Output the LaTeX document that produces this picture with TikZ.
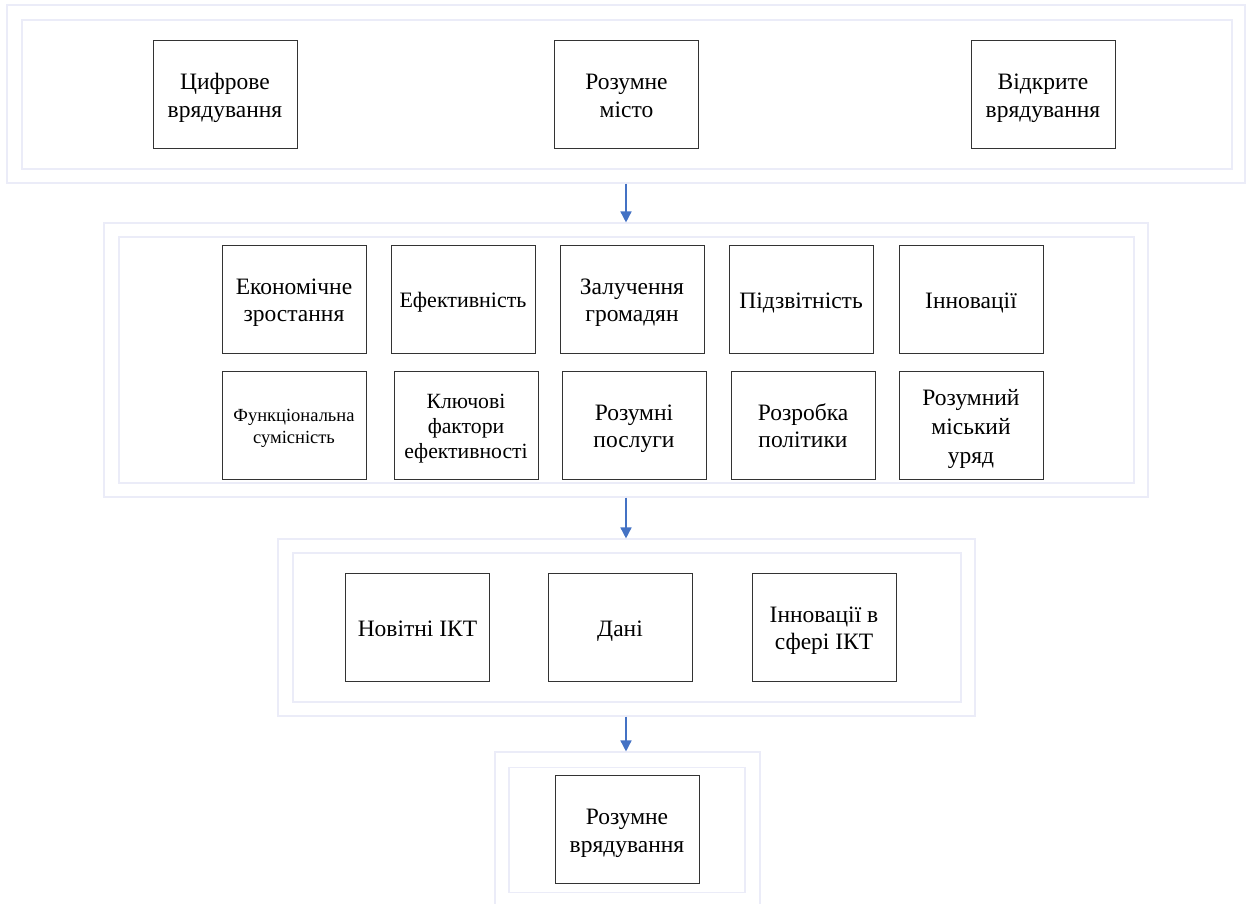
\documentclass[tikz,border=0pt]{standalone}
\usepackage{fontspec}
\setmainfont{Liberation Serif}
\usetikzlibrary{arrows.meta}
\definecolor{lav}{HTML}{EBECF8}
\definecolor{arr}{HTML}{4472C4}
\tikzset{
  box/.style={draw=black!80, line width=0.8pt, fill=white, minimum width=144, minimum height=108, align=center, inner sep=2pt, font=\fontsize{23.5}{27.5}\selectfont,
    text height=22pt, text depth=4pt},
  two/.style={text height=49.5pt},
  three/.style={text height=80pt},
  frm/.style={draw=lav, line width=1.1pt, inner sep=0pt},
  conn/.style={draw=arr, line width=1.5pt, -{Triangle[width=11pt,length=11pt]}}
}
\begin{document}
\begin{tikzpicture}[x=1pt,y=-1pt]
\useasboundingbox (0,0) rectangle (1251,903);
% frame 1
\node[frm, minimum width=1238, minimum height=178] (f1o) at (626,94) {};
\node[frm, minimum width=1210, minimum height=149] (f1i) at (627,94.5) {};
\node[box, two] (cd) at (225,94.5) {Цифрове\\врядування};
\node[box, two] (rm) at (626.5,94.5) {Розумне\\місто};
\node[box, two] (vv) at (1043,94.5) {Відкрите\\врядування};
% frame 2
\node[frm, minimum width=1044, minimum height=274] (f2o) at (626,360) {};
\node[frm, minimum width=1015, minimum height=246] (f2i) at (626.5,360) {};
\node[box, two] (ez) at (294,299) {Економічне\\зростання};
\node[box, font=\fontsize{22}{26}\selectfont, text height=21pt] (ef) at (463,299) {Ефективність};
\node[box, two] (zg) at (632,299) {Залучення\\громадян};
\node[box] (pd) at (801,299) {Підзвітність};
\node[box] (in) at (971,299) {Інновації};
\node[box, font=\fontsize{18.5}{22}\selectfont, text height=39.5pt, text depth=3.5pt] (fs) at (294,425) {Функціональна\\сумісність};
\node[box, font=\fontsize{21.7}{25}\selectfont, text height=70.5pt] (kf) at (466,425) {Ключові\\фактори\\ефективності};
\node[box, two] (rp) at (634,425) {Розумні\\послуги};
\node[box, two] (rz) at (803,425) {Розробка\\політики};
\node[box, three, font=\fontsize{23.5}{29}\selectfont] (ru) at (971,425) {Розумний\\міський\\уряд};
% frame 3
\node[frm, minimum width=697, minimum height=177] (f3o) at (626.5,627.5) {};
\node[frm, minimum width=668, minimum height=149] (f3i) at (627,627.5) {};
\node[box] (ni) at (417.5,627) {Новітні ІКТ};
\node[box] (dn) at (620,627) {Дані};
\node[box, two] (is) at (824,627) {Інновації в\\сфері ІКТ};
% frame 4
\node[frm, minimum width=265, minimum height=163] (f4o) at (627.5,833.5) {};
\node[frm, minimum width=236, minimum height=125] (f4i) at (627,830) {};
\node[box, two] (rv) at (627,829.5) {Розумне\\врядування};
% connectors
\draw[conn] (f1o.south) -- (f1o.south |- f2o.north);
\draw[conn] (f2o.south) -- (f2o.south |- f3o.north);
\draw[conn] (f3o.south -| f2o.south) -- (f2o.south |- f4o.north);
\end{tikzpicture}
\end{document}
